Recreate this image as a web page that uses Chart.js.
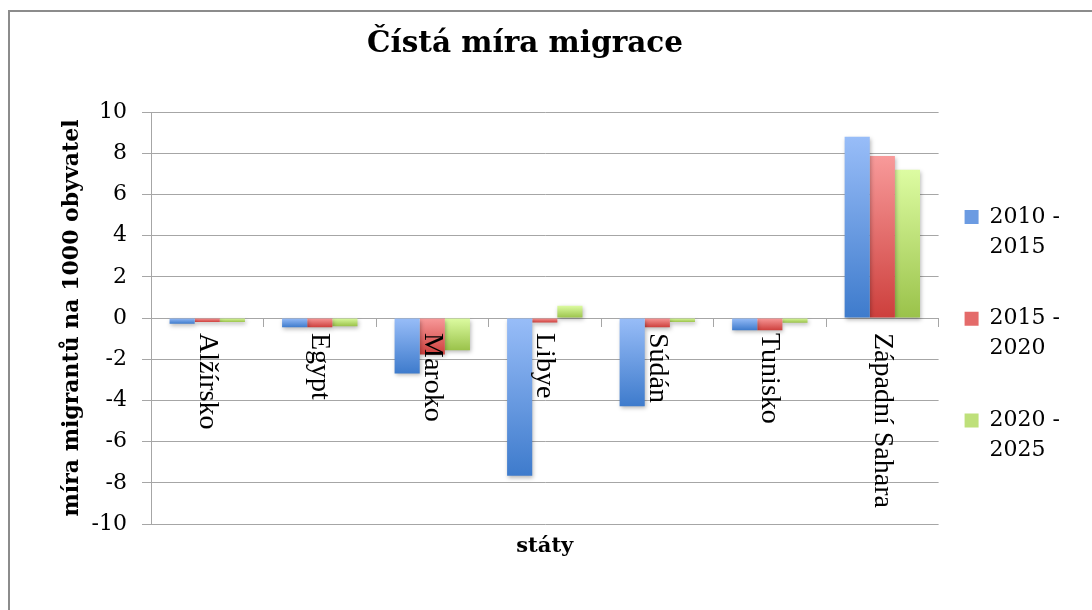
<!DOCTYPE html>
<html><head><meta charset="utf-8">
<script src="https://cdn.jsdelivr.net/npm/chart.js@4/dist/chart.umd.min.js"></script>
<style>
html,body{margin:0;padding:0;background:#fff;overflow:hidden}
#frame{position:absolute;left:8px;top:10px;width:1200px;height:700px;border:2px solid #8c8c8c;box-sizing:border-box}
#wrap{position:absolute;left:0;top:0;width:1092px;height:610px}
</style></head>
<body>
<div id="frame"></div>
<div id="wrap"><canvas id="c" width="1092" height="610"></canvas></div>
<script>
const categories = ['Alžírsko', 'Egypt', 'Maroko', 'Libye', 'Súdán', 'Tunisko', 'Západní Sahara'];
const seriesNames = ['2010 - 2015', '2015 - 2020', '2020 - 2025'];
const s2010 = [-0.28, -0.45, -2.69, -7.66, -4.29, -0.59, 8.8];
const s2015 = [-0.2, -0.45, -1.77, -0.22, -0.45, -0.6, 7.87];
const s2020 = [-0.2, -0.4, -1.57, 0.6, -0.2, -0.23, 7.2];
const yTicks = {min: -10, max: 10, step: 2};
const chartTitle = 'Čístá míra migrace';
const xTitle = 'státy';
const yTitle = 'míra migrantů na 1000 obyvatel';

function grad(top, bottom) {
  return (ctx) => {
    const chart = ctx.chart;
    if (!chart.chartArea || ctx.type !== 'data' || !ctx.parsed) return bottom;
    const ys = chart.scales.y;
    const p0 = ys.getPixelForValue(0), p1 = ys.getPixelForValue(ctx.parsed.y);
    const t = Math.min(p0, p1), b = Math.max(p0, p1);
    if (b - t < 1) return bottom;
    const g = chart.ctx.createLinearGradient(0, t, 0, b);
    g.addColorStop(0, top);
    g.addColorStop(1, bottom);
    return g;
  };
}
const palette = [
  {top: '#98BDF8', bottom: '#3E7BCC', mid: '#6B9BE2'},
  {top: '#F89A9A', bottom: '#CD3F3C', mid: '#E46B6A'},
  {top: '#DDFCA2', bottom: '#9AC24A', mid: '#BEE07A'}
];
const seriesData = [s2010, s2015, s2020];

const shadowPlugin = {
  id: 'barShadow',
  beforeDatasetsDraw(chart) {
    const c = chart.ctx;
    c.save();
    c.shadowColor = 'rgba(0,0,0,0.28)';
    c.shadowBlur = 4;
    c.shadowOffsetX = 1;
    c.shadowOffsetY = 2;
  },
  afterDatasetsDraw(chart) {
    chart.ctx.restore();
  }
};
const catLabelPlugin = {
  id: 'catLabels',
  afterDraw(chart) {
    const c = chart.ctx, xs = chart.scales.x, ys = chart.scales.y;
    const y0 = ys.getPixelForValue(0);
    c.save();
    c.font = '28px "Liberation Serif"';
    c.fillStyle = '#000';
    c.textAlign = 'left';
    c.textBaseline = 'middle';
    chart.data.labels.forEach((lab, i) => {
      const x = xs.getPixelForValue(i);
      c.save();
      c.translate(x, y0 + 15);
      c.rotate(Math.PI / 2);
      c.fillText(lab, 0, 0);
      c.restore();
    });
    c.restore();
  }
};

const gridColor = '#a6a6a6';
new Chart(document.getElementById('c'), {
  type: 'bar',
  data: {
    labels: categories,
    datasets: seriesNames.map((n, i) => ({
      label: n,
      data: seriesData[i],
      xAxisID: 'x',
      yAxisID: 'y',
      backgroundColor: grad(palette[i].top, palette[i].bottom),
      borderWidth: 0,
      barPercentage: 1.0,
      categoryPercentage: 0.67
    }))
  },
  options: {
    responsive: false,
    devicePixelRatio: 1,
    animation: false,
    layout: {padding: {left: -20, right: 22, top: 0, bottom: 0}},
    scales: {
      x: {
        type: 'category',
        position: {y: 0},
        offset: true,
        grid: {display: true, drawOnChartArea: false, drawTicks: true, tickLength: 8, color: gridColor, offset: true},
        border: {display: true, color: gridColor},
        ticks: {display: false}
      },
      x2: {
        type: 'category',
        position: 'bottom',
        grid: {display: false},
        border: {display: false},
        ticks: {display: false},
        title: {display: true, text: xTitle, color: '#000',
          font: {family: 'DejaVu Serif', weight: 'bold', size: 21}, padding: {top: 0, bottom: 51}},
        afterFit(s) { s.height = 86; }
      },
      y: {
        min: yTicks.min, max: yTicks.max,
        ticks: {stepSize: yTicks.step, color: '#000', padding: 15, font: {family: 'DejaVu Serif', size: 22}},
        grid: {color: gridColor, tickLength: 9},
        border: {color: gridColor},
        title: {display: true, text: yTitle, color: '#000',
          font: {family: 'DejaVu Serif', weight: 'bold', size: 22}, padding: {top: 78.8, bottom: 0}},
        afterFit(s) { s.width = 171; }
      },
      y2: {
        type: 'linear',
        position: 'right',
        grid: {display: false},
        border: {display: false},
        ticks: {display: false},
        afterFit(s) { s.width = 14; }
      }
    },
    plugins: {
      title: {
        display: true, text: chartTitle, color: '#000',
        font: {family: 'DejaVu Serif', weight: 'bold', size: 29.5},
        padding: {top: 27, bottom: 49.6}
      },
      legend: {
        position: 'right',
        align: 'start',
        maxWidth: 130,
        title: {display: true, text: '', font: {size: 10}, padding: {top: 182, bottom: 0}},
        labels: {
          boxWidth: 14, boxHeight: 14, padding: 12, color: '#000',
          font: {family: 'DejaVu Serif', size: 22, lineHeight: 1.36},
          generateLabels(chart) {
            return chart.data.datasets.map((ds, i) => {
              const parts = ds.label.split(' - ');
              return {
                text: [parts[0] + ' -', parts[1], ''],
                fillStyle: palette[i].mid,
                strokeStyle: palette[i].mid,
                lineWidth: 0,
                hidden: !chart.isDatasetVisible(i),
                datasetIndex: i,
                fontColor: '#000'
              };
            });
          }
        }
      },
      tooltip: {enabled: false}
    }
  },
  plugins: [shadowPlugin, catLabelPlugin]
});
</script>
</body></html>
